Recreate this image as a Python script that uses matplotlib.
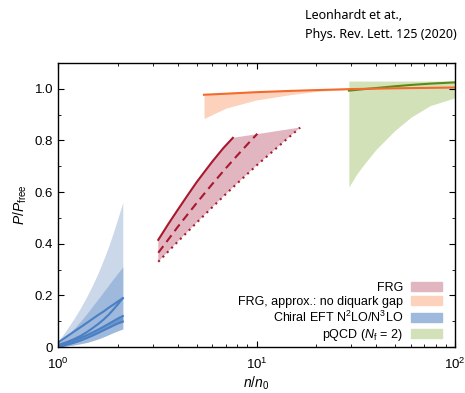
import numpy as np
import matplotlib
matplotlib.use('Agg')
from matplotlib import pyplot as plt
from matplotlib.patches import Patch

plt.rcParams['font.family'] = ['Liberation Sans', 'DejaVu Sans']
plt.rcParams['mathtext.fontset'] = 'custom'
plt.rcParams['mathtext.rm'] = 'Liberation Sans'
plt.rcParams['mathtext.it'] = 'Liberation Sans:italic'
plt.rcParams['mathtext.bf'] = 'Liberation Sans:bold'

# chiral EFT
n_chi = [1.0, 1.1, 1.2, 1.3, 1.4, 1.5, 1.6, 1.7, 1.8, 1.9, 2.0, 2.12]
chi_light_hi = [0.02, 0.065, 0.108, 0.152, 0.197, 0.243, 0.29, 0.34, 0.39, 0.443, 0.497, 0.56]
chi_mid_hi = [0.01, 0.04, 0.07, 0.10, 0.13, 0.16, 0.188, 0.215, 0.24, 0.264, 0.286, 0.31]
chi_lo = [0.0, 0.004, 0.008, 0.013, 0.018, 0.025, 0.032, 0.04, 0.048, 0.056, 0.063, 0.07]
chi_dark_lo = [0.0, 0.008, 0.016, 0.025, 0.035, 0.045, 0.055, 0.065, 0.074, 0.083, 0.091, 0.098]
chi_dark_hi = [0.005, 0.015, 0.025, 0.035, 0.046, 0.057, 0.068, 0.079, 0.09, 0.1, 0.11, 0.12]
chi_line_a = [0.017, 0.039, 0.059, 0.077, 0.094, 0.110, 0.125, 0.138, 0.152, 0.164, 0.176, 0.189]
chi_line_b = [0.008, 0.018, 0.03, 0.043, 0.058, 0.074, 0.09, 0.107, 0.125, 0.145, 0.165, 0.189]

# FRG
n_frg_solid = [3.2, 3.6, 4, 4.5, 5, 5.5, 6, 6.8, 7.6]
frg_solid = [0.415, 0.477, 0.530, 0.588, 0.639, 0.681, 0.719, 0.770, 0.81]
n_frg_dash = [3.2, 3.6, 4, 4.5, 5, 5.5, 6, 7, 8, 9, 10.1]
frg_dash = [0.365, 0.417, 0.464, 0.514, 0.558, 0.597, 0.632, 0.692, 0.742, 0.785, 0.826]
n_frg_dot = [3.2, 4, 5, 6, 7, 8, 10, 12, 14, 16.6]
frg_dot = [0.33, 0.407, 0.482, 0.542, 0.592, 0.634, 0.703, 0.756, 0.801, 0.85]

# FRG no diquark gap
n_ng = [5.44, 7, 10, 15, 20, 30, 50, 100]
ng_line = [0.977, 0.981, 0.987, 0.992, 0.995, 0.999, 1.002, 1.005]
ng_lo = [0.885, 0.925, 0.957, 0.978, 0.99, 0.998, 1.001, 1.004]

# pQCD
n_pq = [29.2, 32, 35, 40, 50, 60, 75, 100]
pq_lo = [0.62, 0.67, 0.71, 0.765, 0.84, 0.89, 0.935, 0.965]
pq_hi = [1.03, 1.03, 1.03, 1.03, 1.03, 1.03, 1.03, 1.03]
pq_line = [0.993, 0.996, 0.999, 1.003, 1.01, 1.015, 1.02, 1.025]

c_frg_fill = '#e2b6c0'
c_frg = '#a8182e'
c_ng_fill = '#fdd2bd'
c_ng = '#f26a2c'
c_chi_light = '#cbd8ea'
c_chi_mid = '#9fb9dc'
c_chi = '#4a7fc3'
c_pq_fill = '#d3e1b9'
c_pq = '#5c8a16'

fig = plt.figure(figsize=(4.65, 3.93), dpi=100)
ax = fig.add_axes([58/465, 1-347/393, 397/465, 284/393])

# chiral EFT
ax.fill_between(n_chi, chi_lo, chi_light_hi, color=c_chi_light, lw=0)
ax.fill_between(n_chi, chi_lo, chi_mid_hi, color=c_chi_mid, lw=0)
ax.fill_between(n_chi, chi_dark_lo, chi_dark_hi, color='#6d96cd', lw=0)
for yy in (chi_dark_lo, chi_dark_hi, chi_line_a, chi_line_b):
    ax.plot(n_chi, yy, color=c_chi, lw=1.5)

# FRG band
xs = list(n_frg_solid) + list(n_frg_dot[::-1])
ys = list(frg_solid) + list(frg_dot[::-1])
ax.fill(xs, ys, color=c_frg_fill, lw=0)
ax.plot(n_frg_solid, frg_solid, color=c_frg, lw=1.5)
ax.plot(n_frg_dash, frg_dash, color=c_frg, lw=1.5, ls=(0, (4, 2.5)))
ax.plot(n_frg_dot, frg_dot, color=c_frg, lw=1.5, ls=(0, (1, 2)))

# no diquark gap
ax.fill_between(n_ng, ng_lo, ng_line, color=c_ng_fill, lw=0)

# pQCD
ax.fill_between(n_pq, pq_lo, pq_hi, color=c_pq_fill, lw=0)
ax.plot(n_pq, pq_line, color=c_pq, lw=1.5)
ax.plot(n_ng, ng_line, color=c_ng, lw=1.5)

ax.set_xscale('log')
ax.set_xlim(1, 100)
ax.set_ylim(0, 1.1)
ax.set_yticks([0, 0.2, 0.4, 0.6, 0.8, 1.0])
ax.set_yticklabels(['0', '0.2', '0.4', '0.6', '0.8', '1.0'])
ax.set_yticks(np.arange(0.1, 1.1, 0.2), minor=True)
ax.tick_params(which='both', direction='in', top=True, right=True, labelsize=9.5)
ax.tick_params(axis='x', pad=7)
ax.tick_params(which='major', length=4)
ax.tick_params(which='minor', length=2.5)
for s in ax.spines.values():
    s.set_linewidth(1)

ax.set_xlabel('$n/n_0$', fontsize=10, labelpad=2)
ax.set_ylabel('$P/P_\\mathrm{free}$', fontsize=10)

handles = [Patch(color=c_frg_fill), Patch(color=c_ng_fill),
           Patch(color=c_chi_mid), Patch(color=c_pq_fill)]
labels = ['FRG', 'FRG, approx.: no diquark gap',
          'Chiral EFT N$^2$LO/N$^3$LO', 'pQCD ($N_\\mathrm{f}$ = 2)']
ax.legend(handles, labels, loc='lower right', frameon=False, markerfirst=False,
          fontsize=9, handlelength=2.5, handleheight=0.75, labelspacing=0.15,
          handletextpad=0.6, bbox_to_anchor=(0.995, -0.025))

fig.text(305/465, 1-9/393, 'Leonhardt et at.,\nPhys. Rev. Lett. 125 (2020)',
         family=['Noto Sans', 'DejaVu Sans'], fontsize=9, va='top', ha='left',
         linespacing=1.6)

fig.savefig('out.png', dpi=100)
